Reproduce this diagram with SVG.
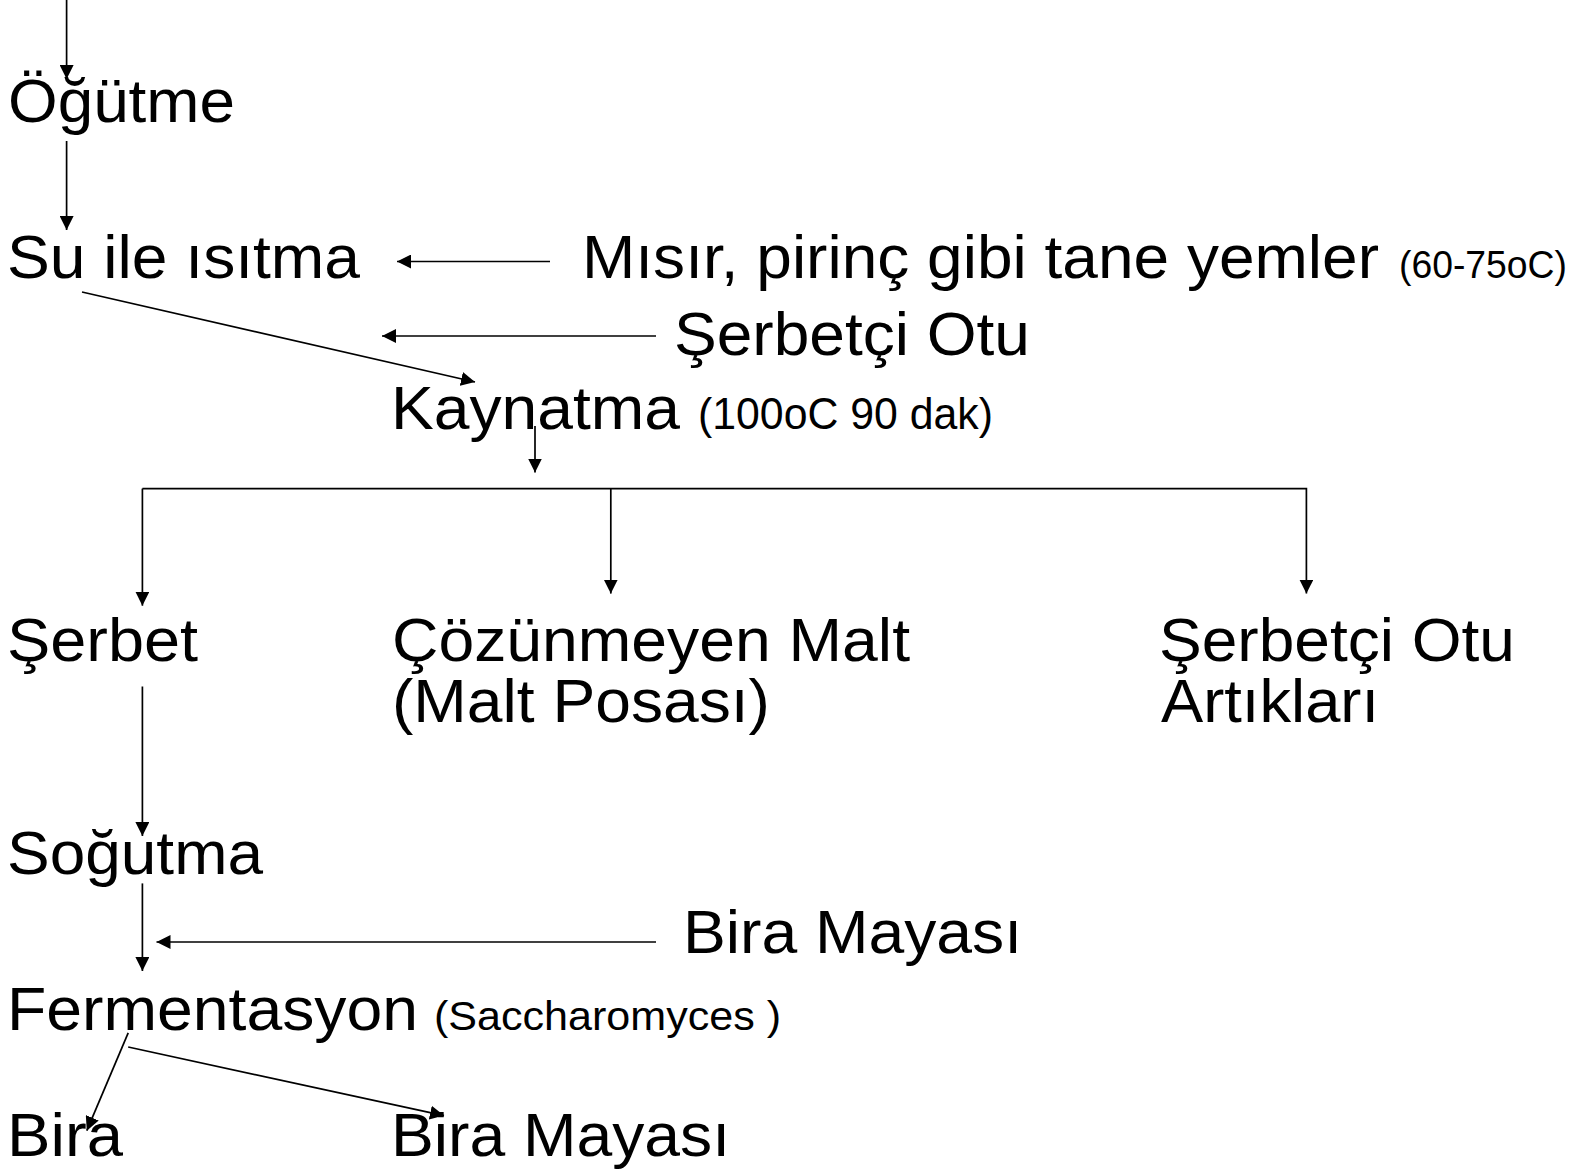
<svg xmlns="http://www.w3.org/2000/svg" width="1583" height="1172" viewBox="0 0 1583 1172">
<style>
  text { font-family: "Liberation Sans", Arial, sans-serif; fill: #000; }
  .big { font-size: 62px; }
  .sm { font-size: 40px; }
  .c { stroke: #000; stroke-width: 1.7; fill: none; }
</style>
<defs>
  <marker id="ah" markerUnits="userSpaceOnUse" markerWidth="15" markerHeight="14" refX="14" refY="7" orient="auto">
    <path d="M0,0 L14,7 L0,14 z" fill="#000"/>
  </marker>
</defs>
<rect width="1583" height="1172" fill="#fff"/>
<g id="connectors">
  <line class="c" x1="66.6" y1="0" x2="66.6" y2="79" marker-end="url(#ah)"/>
  <line class="c" x1="66.6" y1="141" x2="66.6" y2="230" marker-end="url(#ah)"/>
  <line class="c" x1="550" y1="261.5" x2="397" y2="261.5" marker-end="url(#ah)"/>
  <line class="c" x1="656" y1="336" x2="382" y2="336" marker-end="url(#ah)"/>
  <line class="c" x1="82" y1="292" x2="475" y2="382" marker-end="url(#ah)"/>
  <line class="c" x1="535" y1="426" x2="535" y2="472.5" marker-end="url(#ah)"/>
  <polyline class="c" points="142.4,488.6 1306.4,488.6 1306.4,593.6" marker-end="url(#ah)"/>
  <line class="c" x1="142.4" y1="488.6" x2="142.4" y2="605.7" marker-end="url(#ah)"/>
  <line class="c" x1="610.8" y1="488.6" x2="610.8" y2="593.6" marker-end="url(#ah)"/>
  <line class="c" x1="142.4" y1="686.5" x2="142.4" y2="836" marker-end="url(#ah)"/>
  <line class="c" x1="142.4" y1="883.4" x2="142.4" y2="971" marker-end="url(#ah)"/>
  <line class="c" x1="656" y1="942" x2="156.5" y2="942" marker-end="url(#ah)"/>
  <line class="c" x1="128.2" y1="1032.8" x2="86.8" y2="1130.7" marker-end="url(#ah)"/>
  <line class="c" x1="128.2" y1="1047" x2="444" y2="1115.6" marker-end="url(#ah)"/>
</g>
<g id="n-ogutme"><text class="big" x="8" y="122" textLength="227" lengthAdjust="spacingAndGlyphs">Öğütme</text></g>
<g id="n-su-ile-isitma"><text class="big" x="7" y="278" textLength="353" lengthAdjust="spacingAndGlyphs">Su ile ısıtma</text></g>
<g id="n-misir"><text class="big" x="582" y="278" textLength="797" lengthAdjust="spacingAndGlyphs">Mısır, pirinç gibi tane yemler</text><text class="sm" x="1399" y="278" textLength="168" lengthAdjust="spacingAndGlyphs" style="font-size:38px">(60-75oC)</text></g>
<g id="n-serbetci-otu"><text class="big" x="674" y="355" textLength="356" lengthAdjust="spacingAndGlyphs">Şerbetçi Otu</text></g>
<g id="n-kaynatma"><text class="big" x="391" y="429" textLength="289" lengthAdjust="spacingAndGlyphs">Kaynatma</text><text class="sm" x="698" y="429" textLength="295" lengthAdjust="spacingAndGlyphs" style="font-size:44px">(100oC 90 dak)</text></g>
<g id="n-serbet"><text class="big" x="7" y="661" textLength="191" lengthAdjust="spacingAndGlyphs">Şerbet</text></g>
<g id="n-malt"><text class="big"><tspan x="392" y="661" textLength="518" lengthAdjust="spacingAndGlyphs">Çözünmeyen Malt</tspan><tspan x="392" y="722" textLength="378" lengthAdjust="spacingAndGlyphs">(Malt Posası)</tspan></text></g>
<g id="n-artiklar"><text class="big"><tspan x="1159" y="661" textLength="356" lengthAdjust="spacingAndGlyphs">Şerbetçi Otu</tspan><tspan x="1161" y="722" textLength="218" lengthAdjust="spacingAndGlyphs">Artıkları</tspan></text></g>
<g id="n-sogutma"><text class="big" x="7" y="874" textLength="256" lengthAdjust="spacingAndGlyphs">Soğutma</text></g>
<g id="n-bira-mayasi-in"><text class="big" x="683" y="953" textLength="339" lengthAdjust="spacingAndGlyphs">Bira Mayası</text></g>
<g id="n-fermentasyon"><text class="big" x="7" y="1030" textLength="411" lengthAdjust="spacingAndGlyphs">Fermentasyon</text><text class="sm" x="434" y="1030" textLength="347" lengthAdjust="spacingAndGlyphs" style="font-size:41px">(Saccharomyces )</text></g>
<g id="n-bira"><text class="big" x="7" y="1156" textLength="116" lengthAdjust="spacingAndGlyphs">Bira</text></g>
<g id="n-bira-mayasi-out"><text class="big" x="391" y="1156" textLength="339" lengthAdjust="spacingAndGlyphs">Bira Mayası</text></g>
</svg>
